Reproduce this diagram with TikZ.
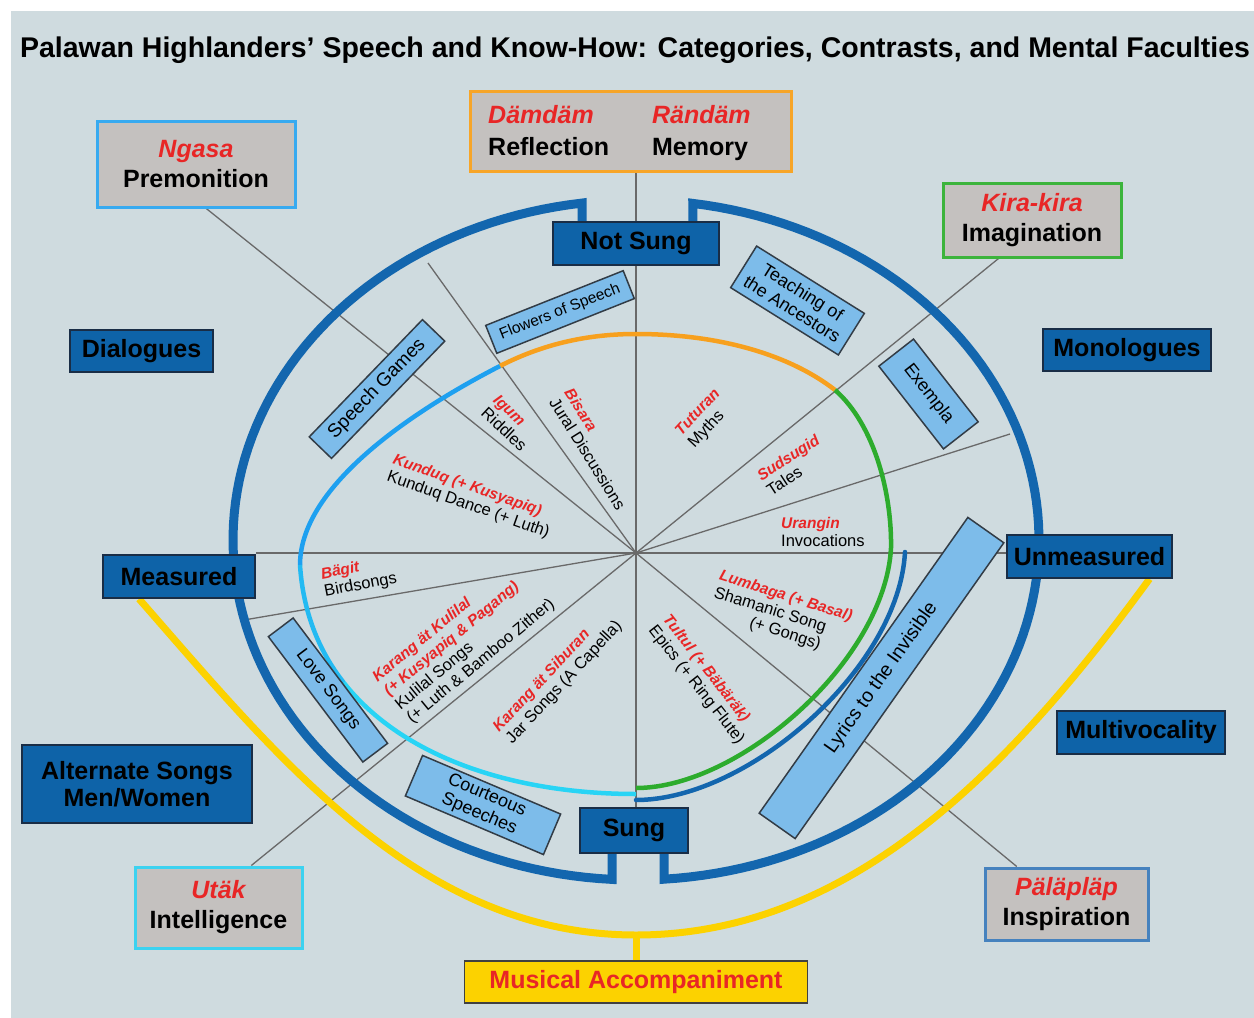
\documentclass[tikz,border=0pt]{standalone}
\usepackage{fontspec}
\setmainfont{Liberation Sans}
\usetikzlibrary{calc}

\definecolor{paper}{RGB}{207,219,223}
\definecolor{navy}{RGB}{14,99,168}
\definecolor{ringblue}{RGB}{19,102,174}
\definecolor{edgedark}{RGB}{25,45,70}
\definecolor{skyfill}{RGB}{125,188,234}
\definecolor{skyedge}{RGB}{50,60,70}
\definecolor{greyfill}{RGB}{196,193,191}
\definecolor{hotred}{RGB}{232,38,38}
\definecolor{spokegrey}{RGB}{105,105,105}
\definecolor{orangeline}{RGB}{247,160,30}
\definecolor{greenline}{RGB}{45,172,45}
\definecolor{skyline}{RGB}{30,160,240}
\definecolor{midline}{RGB}{35,186,242}
\definecolor{cyanline}{RGB}{40,212,245}
\definecolor{goldline}{RGB}{252,210,0}
\definecolor{ngasaedge}{RGB}{55,170,240}
\definecolor{damedge}{RGB}{247,165,40}
\definecolor{kiraedge}{RGB}{60,180,60}
\definecolor{utakedge}{RGB}{60,210,240}
\definecolor{palapedge}{RGB}{70,130,190}

\pgfdeclarelayer{back}
\pgfdeclarelayer{lines}
\pgfsetlayers{back,lines,main}

\newcommand{\hl}[1]{{\color{hotred}\itshape #1}}
\newcommand{\rlab}[1]{{\color{hotred}\bfseries\itshape\fontsize{15.5}{18}\selectfont #1}}

\tikzset{
  darkbox/.style={draw=edgedark, fill=navy, line width=1.8pt, inner sep=0pt, align=center, font=\bfseries\fontsize{25}{27}\selectfont},
  greybox/.style={fill=greyfill, line width=3pt, inner sep=0pt, align=center, font=\bfseries\fontsize{25}{30}\selectfont},
  skybox/.style={draw=skyedge, fill=skyfill, line width=1.5pt, inner sep=0pt, align=center, font=\fontsize{18}{20}\selectfont},
  wedge/.style={inner sep=0pt, align=left, font=\fontsize{16.5}{18}\selectfont},
  spoke/.style={spokegrey, line width=1.3pt},
  bigring/.style={ringblue, line width=9pt},
  thinring/.style={line width=4.5pt},
}

\begin{document}
\begin{tikzpicture}[x=1pt, y=-1pt]
  \useasboundingbox (0,0) rectangle (1254,1018);
  \begin{pgfonlayer}{back}
    \fill[white] (0,0) rectangle (1254,1018);
    \fill[paper] (11,11) rectangle (1254,1018);
  \end{pgfonlayer}

  % title
  \node[anchor=base, font=\bfseries\fontsize{28.5}{34}\selectfont] (title) at (635,57) {Palawan Highlanders’ Speech and Know-How: Categories, Contrasts, and Mental Faculties};

  % mental faculties
  \node[greybox, draw=ngasaedge, minimum width=198pt, minimum height=86pt] (ngasa) at (196,164) {\hl{Ngasa}\\Premonition};
  \node[greybox, draw=damedge, minimum width=321pt, minimum height=80pt] (damdam) at (630.5,131) {};
  \node[anchor=west, inner sep=0pt, font=\bfseries\fontsize{25}{32}\selectfont] (damtext) at (488,133) {\begin{tabular}{@{}l@{\hspace{43pt}}l@{}}\hl{Dämdäm} & \hl{Rändäm}\\Reflection & Memory\end{tabular}};
  \node[greybox, draw=kiraedge, minimum width=178pt, minimum height=74pt] (kira) at (1032,220) {\hl{Kira-kira}\\Imagination};
  \node[greybox, draw=utakedge, minimum width=167pt, minimum height=81pt] (utak) at (218.5,907.5) {\hl{Utäk}\\Intelligence};
  \node[greybox, draw=palapedge, minimum width=163pt, minimum height=72pt] (palap) at (1066.5,904) {\hl{Päläpläp}\\Inspiration};

  % categories and contrasts
  \node[darkbox, minimum width=143pt, minimum height=42pt] (dialogues) at (141.5,351) {Dialogues};
  \node[darkbox, minimum width=168pt, minimum height=42pt] (monologues) at (1127,350) {Monologues};
  \node[darkbox, minimum width=166pt, minimum height=43pt] (notsung) at (636,243.5) {Not Sung};
  \node[darkbox, minimum width=152pt, minimum height=43pt] (measured) at (179,576.5) {Measured};
  \node[darkbox, minimum width=165pt, minimum height=43pt] (unmeasured) at (1089.5,556.5) {Unmeasured};
  \node[darkbox, minimum width=168pt, minimum height=43pt] (multi) at (1141,732.5) {Multivocality};
  \node[darkbox, minimum width=230pt, minimum height=78pt] (alternate) at (137,784) {Alternate Songs\\Men/Women};
  \node[darkbox, minimum width=108pt, minimum height=45pt] (sung) at (634,830.5) {Sung};
  \node[darkbox, draw=black!75, fill=goldline, text=hotred, minimum width=343pt, minimum height=42pt] (accomp) at (636,982) {Musical Accompaniment};

  % light blue genre boxes
  \node[skybox, rotate=21.7, minimum width=148pt, minimum height=30pt, font=\fontsize{15.5}{18}\selectfont] (flowers) at (560,312) {Flowers of Speech};
  \node[skybox, rotate=46, minimum width=163pt, minimum height=31pt, font=\fontsize{19}{21}\selectfont] (games) at (377,389) {Speech Games};
  \node[skybox, rotate=-32, minimum width=127pt, minimum height=49pt] (ancestors) at (797.5,300.5) {Teaching of\\the Ancestors};
  \node[skybox, rotate=-52, minimum width=105pt, minimum height=44pt] (exempla) at (928.5,394) {Exempla};
  \node[skybox, rotate=-53, minimum width=157pt, minimum height=31pt] (love) at (328,690) {Love Songs};
  \node[skybox, rotate=-23, minimum width=150pt, minimum height=44pt] (courteous) at (483,805) {Courteous\\Speeches};
  \node[skybox, rotate=54.8, minimum width=362pt, minimum height=44pt, font=\fontsize{19.5}{22}\selectfont] (lyrics) at (881.5,678) {Lyrics to the Invisible};

  % wedge labels
  \node[wedge, rotate=-43] (igum) at (510,423) {\rlab{Igum}\\Riddles};
  \node[wedge, rotate=-58] (bisara) at (595,449) {\rlab{Bisara}\\Jural Discussions};
  \node[wedge, rotate=47] (tuturan) at (705,419) {\rlab{Tuturan}\\Myths};
  \node[wedge, rotate=33] (sudsugid) at (793,465) {\rlab{Sudsugid}\\Tales};
  \node[wedge, anchor=west] (urangin) at (781,532) {\rlab{Urangin}\\Invocations};
  \node[wedge, rotate=-17.4] (lumbaga) at (780,615) {\rlab{Lumbaga (+ Basal)}\\\begin{tabular}[t]{@{}r@{}}Shamanic Song\\(+ Gongs)\end{tabular}};
  \node[wedge, rotate=-52] (tultul) at (703,680) {\rlab{Tultul (+ Bäbäräk)}\\Epics (+ Ring Flute)};
  \node[wedge, rotate=47] (siburan) at (558,677) {\rlab{Karang ät Siburan}\\Jar Songs (A Capella)};
  \node[wedge, rotate=39.5] (kulilal) at (464,641) {\rlab{Karang ät Kulilal}\\\rlab{(+ Kusyapiq \& Pagang)}\\Kulilal Songs\\(+ Luth \& Bamboo Zither)};
  \node[wedge, rotate=11] (bagit) at (359,577) {\rlab{Bägit}\\Birdsongs};
  \node[wedge, rotate=-19.5] (kunduq) at (471,497) {\rlab{Kunduq (+ Kusyapiq)}\\Kunduq Dance (+ Luth)};

  \begin{pgfonlayer}{lines}
    % spokes from the centre
    \coordinate (ctr) at (636,553);
    \coordinate (endjural) at (428,263);
    \coordinate (endbird) at (244,620);
    \coordinate (endtales) at (1010,434);
    \draw[spoke] (ctr) -- (ctr |- damdam.south);
    \draw[spoke] (ctr) -- (ctr |- sung.north);
    \draw[spoke] (ctr) -- (ctr -| measured.east);
    \draw[spoke] (ctr) -- (ctr -| unmeasured.west);
    \draw[spoke] (ctr) -- (ngasa.-77);
    \draw[spoke] (ctr) -- (kira.-131);
    \draw[spoke] (ctr) -- (utak.52);
    \draw[spoke] (ctr) -- (palap.143);
    \draw[spoke] (ctr) -- (endjural);
    \draw[spoke] (ctr) -- (endbird);
    \draw[spoke] (ctr) -- (endtales);

    % inner contour
    \draw[thinring, orangeline] (500,366) .. controls (545,343) and (590,334) .. (636,334) .. controls (720,334) and (790,355) .. (835,390);
    \draw[thinring, greenline] (835,390) .. controls (875,425) and (892,495) .. (891,548) .. controls (885,660) and (740,788) .. (636,788);
    \draw[thinring, skyline] (500,366) .. controls (430,402) and (300,480) .. (300,565);
    \draw[thinring, midline] (300,565) .. controls (303,611.5) and (318.6,650.7) .. (343.7,682.6);
    \draw[thinring, cyanline] (343.7,682.6) .. controls (402.3,757) and (512.8,794) .. (636,794);
    \draw[thinring, ringblue, line cap=round] (905,552) .. controls (899,668) and (748,800) .. (636,800);

    % outer ring with its hooks
    \draw[bigring] (582,222) -- plot[domain=262.3:93.4, samples=90] ({636+403*cos(\x)}, {540+340*sin(\x)}) -- (612,853);
    \draw[bigring] (693,222) -- plot[domain=278.1:446, samples=90] ({636+403*cos(\x)}, {540+340*sin(\x)}) -- (664,853);

    % accompaniment
    \draw[goldline, line width=7pt] ($(measured.south)+(-40,0)$) .. controls (280,760) and (420,935) .. (636,935) .. controls (850,935) and (1010,770) .. ($(unmeasured.south)+(60,0)$);
    \draw[goldline, line width=7pt] (636,935) -- (accomp.north);
  \end{pgfonlayer}
\end{tikzpicture}
\end{document}
